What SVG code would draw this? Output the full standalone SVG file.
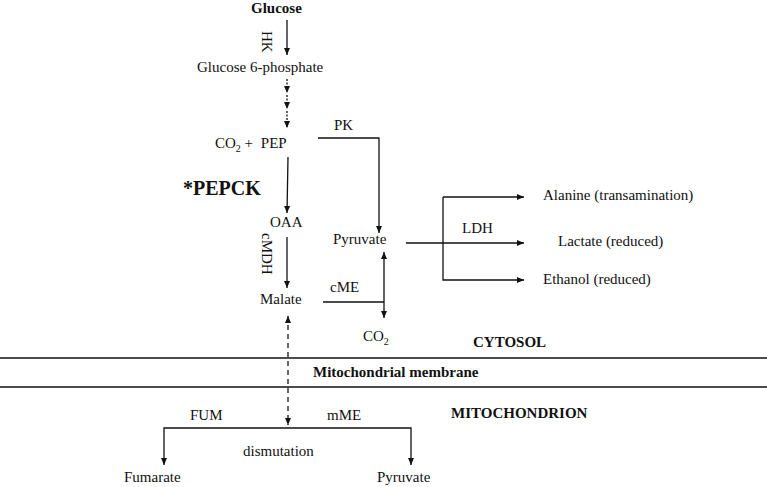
<svg xmlns="http://www.w3.org/2000/svg" width="767" height="487" viewBox="0 0 767 487">
<style>
text{font-family:"Liberation Serif","Times New Roman",serif;font-size:15px;fill:#111}
.b{font-weight:bold}
.sub{font-size:10px}
.ln{stroke:#111;stroke-width:1.3;fill:none}
.arr{marker-end:url(#ah)}
.both{marker-start:url(#ah);marker-end:url(#ah)}
</style>
<defs>
<marker id="ah" markerUnits="userSpaceOnUse" markerWidth="8" markerHeight="8" viewBox="0 0 8 8" refX="7" refY="4" orient="auto-start-reverse">
<path d="M0,1 L7,4 L0,7 Z" fill="#111"/>
</marker>
</defs>
<rect width="767" height="487" fill="#fff"/>
<g id="connectors">
<line class="ln arr" x1="287" y1="20" x2="287" y2="55"/>
<line class="ln arr" x1="287" y1="79" x2="287" y2="93" stroke-dasharray="2,1.5"/>
<line class="ln arr" x1="287" y1="95" x2="287" y2="109" stroke-dasharray="2,1.5"/>
<line class="ln arr" x1="287" y1="111" x2="287" y2="128" stroke-dasharray="2,1.5"/>
<path class="ln arr" d="M318,138 H379 V233"/>
<line class="ln arr" x1="288" y1="157" x2="287" y2="213"/>
<line class="ln arr" x1="287" y1="237" x2="287" y2="288"/>
<line class="ln" x1="323" y1="302" x2="384" y2="302"/>
<line class="ln both" x1="384" y1="252" x2="384" y2="318"/>
<line class="ln arr" x1="406" y1="243" x2="524" y2="243"/>
<line class="ln arr" x1="443" y1="197" x2="524" y2="197"/>
<path class="ln arr" d="M443,197 V280 H524"/>
<line class="ln both" x1="288" y1="316" x2="288" y2="425" stroke-dasharray="5,4"/>
<path class="ln both" d="M164,465 V428 H411 V465"/>
<line class="ln" x1="0" y1="358" x2="767" y2="358"/>
<line class="ln" x1="0" y1="387" x2="767" y2="387"/>
</g>
<g id="glucose"><text class="b" x="251" y="13">Glucose</text></g>
<g id="hk"><text transform="translate(262,31) rotate(90)">HK</text></g>
<g id="g6p"><text x="197" y="72">Glucose 6-phosphate</text></g>
<g id="co2pep"><text x="215" y="148">CO<tspan class="sub" dy="4">2</tspan><tspan dy="-4"> + </tspan><tspan dx="4">PEP</tspan></text></g>
<g id="pk"><text x="334" y="130">PK</text></g>
<g id="pepck"><text class="b" x="183" y="195" style="font-size:20px">*PEPCK</text></g>
<g id="oaa"><text x="270" y="227">OAA</text></g>
<g id="cmdh"><text transform="translate(262,233) rotate(90)">cMDH</text></g>
<g id="malate"><text x="260" y="304">Malate</text></g>
<g id="pyruvate"><text x="333" y="244">Pyruvate</text></g>
<g id="cme"><text x="330" y="292">cME</text></g>
<g id="co2"><text x="363" y="341">CO<tspan class="sub" dy="4">2</tspan></text></g>
<g id="alanine"><text x="543" y="200">Alanine (transamination)</text></g>
<g id="ldh"><text x="462" y="233">LDH</text></g>
<g id="lactate"><text x="558" y="246">Lactate (reduced)</text></g>
<g id="ethanol"><text x="543" y="284">Ethanol (reduced)</text></g>
<g id="cytosol"><text class="b" x="473" y="347">CYTOSOL</text></g>
<g id="membrane"><text class="b" x="313" y="377">Mitochondrial membrane</text></g>
<g id="mitochondrion"><text class="b" x="451" y="418">MITOCHONDRION</text></g>
<g id="fum"><text x="190" y="420">FUM</text></g>
<g id="mme"><text x="327" y="420">mME</text></g>
<g id="dismutation"><text x="243" y="456">dismutation</text></g>
<g id="fumarate"><text x="124" y="482">Fumarate</text></g>
<g id="pyruvate2"><text x="377" y="482">Pyruvate</text></g>
</svg>
